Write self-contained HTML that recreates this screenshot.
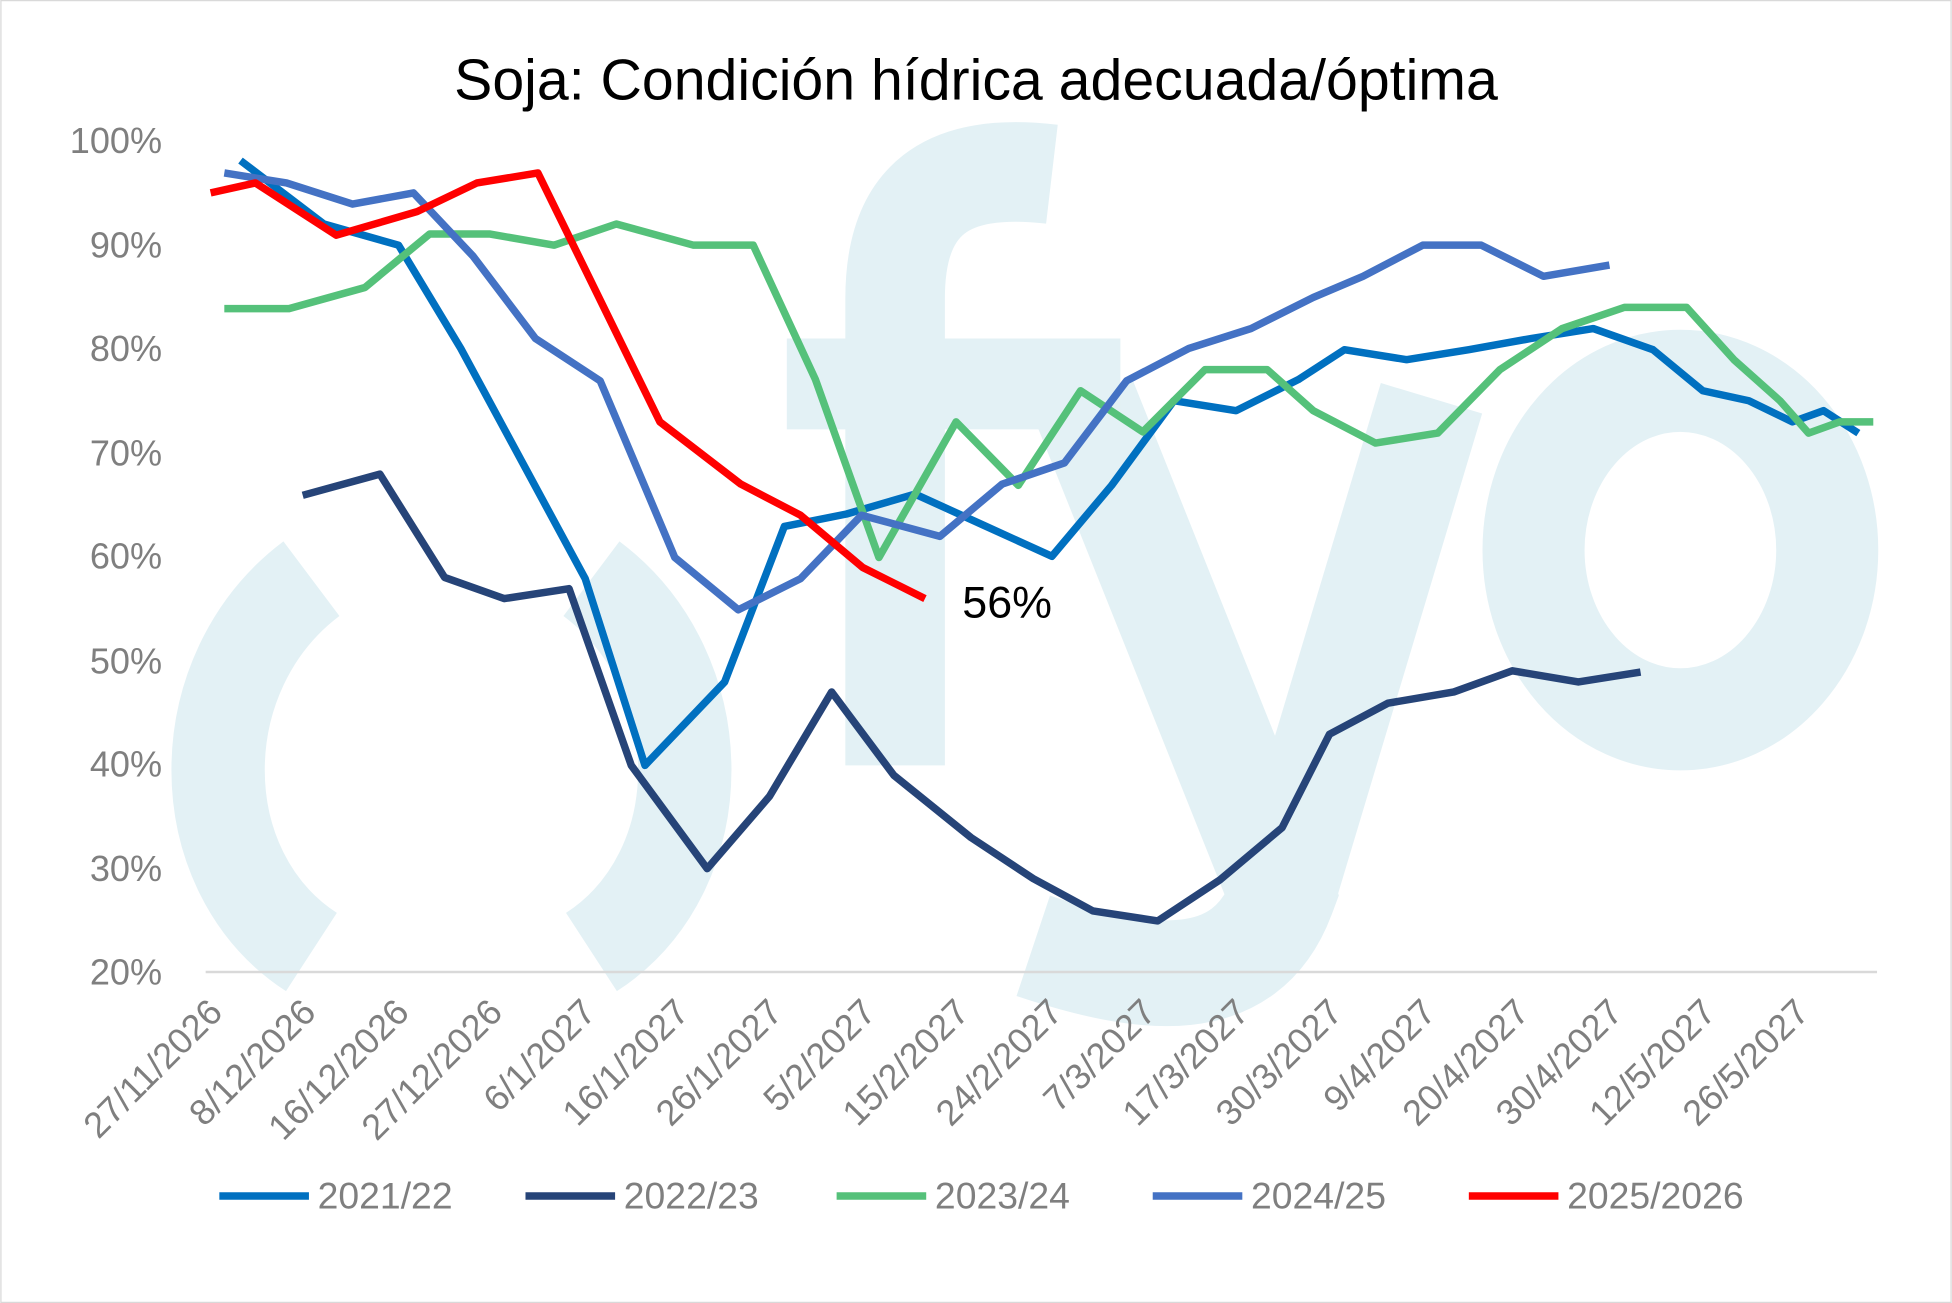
<!DOCTYPE html>
<html><head><meta charset="utf-8"><style>
html,body{margin:0;padding:0;background:#fff}
svg{display:block}
text{font-family:"Liberation Sans",sans-serif}
</style></head><body>
<svg width="1952" height="1303" viewBox="0 0 1568 1047" xmlns="http://www.w3.org/2000/svg">
<rect x="0.5" y="0.5" width="1567" height="1046" fill="#fff" stroke="#d9d9d9"/>
<g fill="none" stroke="#e3f1f5">
<path d="M250 465 C150 540 150 700 250 765" stroke-width="75"/>
<path d="M475 465 C575 540 575 700 475 765" stroke-width="75"/>
<path d="M719 615 L719 240 C719 160 760 130 845 140" stroke-width="80"/>
<path d="M870 320 L1030 720 C1000 800 920 790 830 760" stroke-width="85"/>
<path d="M1030 720 L1150 320" stroke-width="85"/>
<ellipse cx="1350" cy="442" rx="118" ry="136" stroke-width="82"/>
</g>
<rect x="632" y="272" width="268" height="73" fill="#e3f1f5"/>
<text x="784" y="80" font-size="46" text-anchor="middle" fill="#000">Soja: Condición hídrica adecuada/óptima</text>
<line x1="165" y1="781" x2="1508" y2="781" stroke="#d9d9d9" stroke-width="2"/>
<g font-size="29" fill="#7f7f7f" text-anchor="end">
<text x="130" y="123">100%</text><text x="130" y="207">90%</text><text x="130" y="290">80%</text><text x="130" y="374">70%</text><text x="130" y="457">60%</text><text x="130" y="541">50%</text><text x="130" y="624">40%</text><text x="130" y="708">30%</text><text x="130" y="791">20%</text>
</g>
<g font-size="29" fill="#7f7f7f" text-anchor="end">
<text transform="translate(180,815) rotate(-45)">27/11/2026</text>
<text transform="translate(255,815) rotate(-45)">8/12/2026</text>
<text transform="translate(330,815) rotate(-45)">16/12/2026</text>
<text transform="translate(405,815) rotate(-45)">27/12/2026</text>
<text transform="translate(480,815) rotate(-45)">6/1/2027</text>
<text transform="translate(555,815) rotate(-45)">16/1/2027</text>
<text transform="translate(630,815) rotate(-45)">26/1/2027</text>
<text transform="translate(705,815) rotate(-45)">5/2/2027</text>
<text transform="translate(780,815) rotate(-45)">15/2/2027</text>
<text transform="translate(855,815) rotate(-45)">24/2/2027</text>
<text transform="translate(930,815) rotate(-45)">7/3/2027</text>
<text transform="translate(1005,815) rotate(-45)">17/3/2027</text>
<text transform="translate(1080,815) rotate(-45)">30/3/2027</text>
<text transform="translate(1155,815) rotate(-45)">9/4/2027</text>
<text transform="translate(1230,815) rotate(-45)">20/4/2027</text>
<text transform="translate(1305,815) rotate(-45)">30/4/2027</text>
<text transform="translate(1380,815) rotate(-45)">12/5/2027</text>
<text transform="translate(1455,815) rotate(-45)">26/5/2027</text>
</g>
<g fill="none" stroke-width="6" stroke-linejoin="round">
<polyline stroke="#264478" points="243,398 305,381 357,464 405,481 457,473 507,615 568,698 618,640 668,556 718,623 780,673 830,706 878,732 930,740 980,707 1030,665 1068,590 1115,565 1168,556 1215,539 1268,548 1318,540"/>
<polyline stroke="#0070c0" points="193,129 260,180 320,197 370,280 470,465 518,615 582,548 630,423 680,413 735,397 790,422 845,447 893,390 943,322 993,330 1043,305 1080,281 1130,289 1180,281 1230,272 1280,264 1328,281 1368,314 1405,322 1440,339 1465,330 1493,348"/>
<polyline stroke="#55c17a" points="180,248 232,248 293,231 345,188 393,188 445,197 495,180 557,197 605,197 655,305 706,448 768,339 818,390 868,314 918,347 968,297 1018,297 1055,330 1105,356 1155,348 1205,297 1255,264 1305,247 1355,247 1393,289 1430,322 1453,348 1478,339 1505,339"/>
<polyline stroke="#4472c4" points="180,139 230,147 283,164 332,155 380,206 430,272 482,306 542,448 593,490 643,465 692,414 755,431 805,389 855,372 905,306 955,280 1005,264 1055,239 1095,222 1143,197 1190,197 1240,222 1293,213"/>
<polyline stroke="#ff0000" points="169,155 205,147 270,189 335,170 383,147 432,139 530,339 595,389 643,414 693,456 743,481"/>
</g>
<text x="773" y="496" font-size="36" fill="#000">56%</text>
<g stroke-width="6">
<line x1="176" y1="961" x2="248" y2="961" stroke="#0070c0"/>
<line x1="422" y1="961" x2="494" y2="961" stroke="#264478"/>
<line x1="672" y1="961" x2="744" y2="961" stroke="#55c17a"/>
<line x1="926" y1="961" x2="998" y2="961" stroke="#4472c4"/>
<line x1="1180" y1="961" x2="1252" y2="961" stroke="#ff0000"/>
</g>
<g font-size="30" fill="#7f7f7f">
<text x="255" y="971">2021/22</text><text x="501" y="971">2022/23</text><text x="751" y="971">2023/24</text><text x="1005" y="971">2024/25</text><text x="1259" y="971">2025/2026</text>
</g>
</svg>
</body></html>
